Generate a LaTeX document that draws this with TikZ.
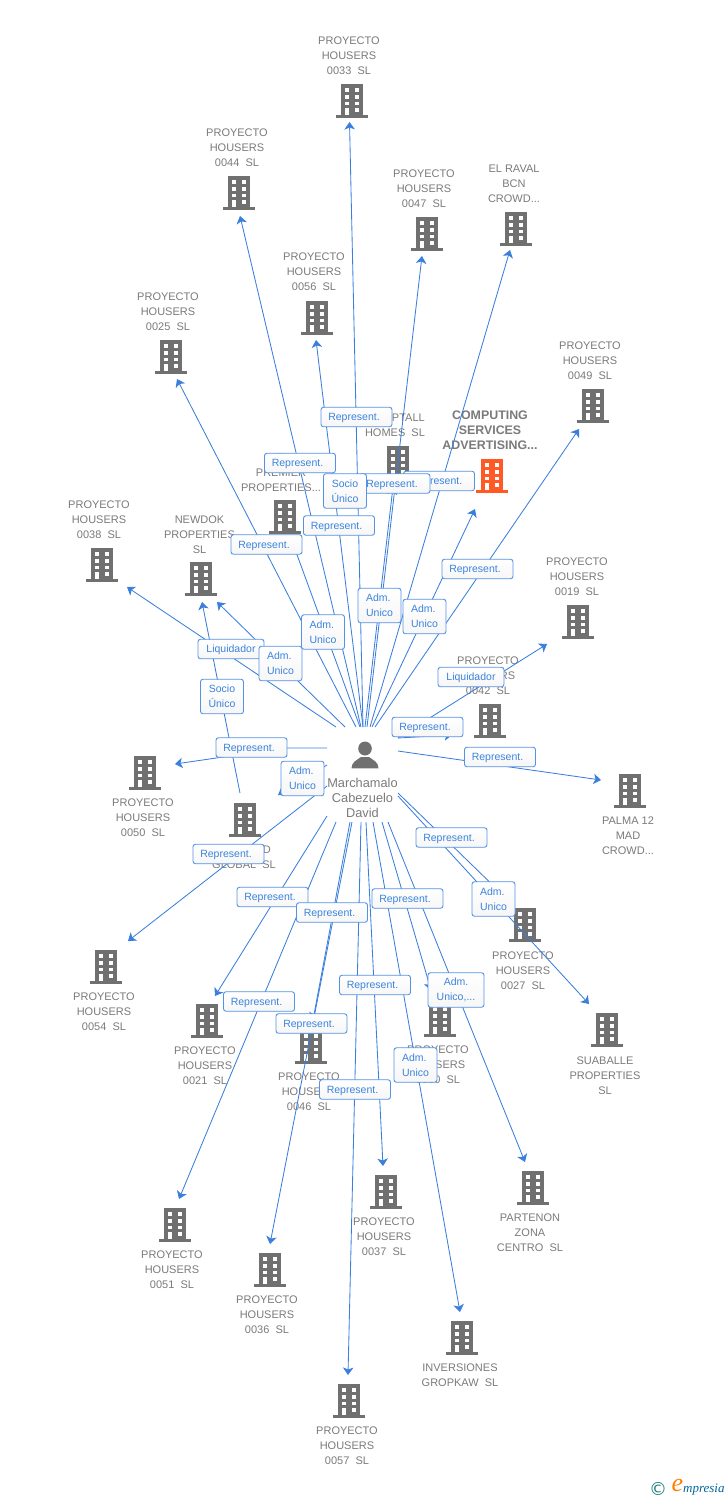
\documentclass[tikz,border=0pt]{standalone}
\usepackage{fontspec}
\setmainfont{Liberation Sans}
\newfontfamily\serifit{Liberation Serif}
\newfontfamily\dejavu{DejaVu Sans}
\usetikzlibrary{arrows.meta}
\definecolor{bluel}{HTML}{3B7FDC}
\definecolor{blueb}{HTML}{5492E6}
\definecolor{bluet}{HTML}{3C83DC}
\definecolor{grayt}{HTML}{7A7A7A}
\definecolor{grayb}{HTML}{707070}
\definecolor{orangeb}{HTML}{FF5A26}
\tikzset{
  x=1pt,y=-1pt,
  pics/bldg/.style={code={
    \fill[#1] (-11.3,-17) rectangle (11.3,14.3);
    \fill[#1] (-16,14) rectangle (16,16.6);
    \fill[white] (-7.4,-13.5) rectangle (-3,-9.5);
    \fill[white] (2.8,-13.5) rectangle (7.2,-9.5);
    \fill[white] (-7.4,-6.3) rectangle (-3,-2.4);
    \fill[white] (2.8,-6.3) rectangle (7.2,-2.4);
    \fill[white] (-7.4,0.5) rectangle (-3,4.4);
    \fill[white] (2.8,0.5) rectangle (7.2,4.4);
    \fill[white] (-7.4,6.8) rectangle (-3,14);
    \fill[white] (2.8,6.8) rectangle (7.2,10.8);
  }},
  lbl/.style={text=grayt,align=center,inner sep=0pt,yshift=-0.8pt,font=\fontsize{11}{15}\selectfont},
  lblbold/.style={text=grayt,align=center,inner sep=0pt,yshift=-0.8pt,font=\fontsize{12.4}{15}\selectfont\bfseries},
  lblp/.style={text=grayt,align=center,inner sep=0pt,font=\fontsize{12.8}{15}\selectfont},
  tag/.style={draw=blueb,line width=0.9pt,rounded corners=2.5pt,top color=white,bottom color=white!93!gray,
     text=bluet,inner sep=0pt,font=\fontsize{10.5}{15}\selectfont},
  rep/.style={tag,minimum width=71pt,minimum height=19.5pt,text height=7.2pt,text depth=0pt,execute at end node=\hspace*{5pt}},
  liq/.style={tag,minimum width=66pt,minimum height=19.5pt,text height=7.2pt,text depth=0pt},
  adm/.style={tag,minimum width=43pt,minimum height=34.5pt,align=left,execute at begin node=\rule{0pt}{8.5pt}},
  lnk/.style={bluel,line width=0.85pt},
  arr/.style={lnk,-{Stealth[length=7.5pt,width=10.5pt,inset=2pt]}},
}
\begin{document}
\begin{tikzpicture}
\useasboundingbox (0,0) rectangle (728,1500);
% buildings
\pic at (352,101) {bldg=grayb};
\pic at (239,193) {bldg=grayb};
\pic at (427,234) {bldg=grayb};
\pic at (516,229) {bldg=grayb};
\pic at (317,318) {bldg=grayb};
\pic at (171,357) {bldg=grayb};
\pic at (593,406) {bldg=grayb};
\pic at (398,463) {bldg=grayb};
\pic at (492,476) {bldg=orangeb};
\pic at (285,517) {bldg=grayb};
\pic at (201,579) {bldg=grayb};
\pic at (102,565) {bldg=grayb};
\pic at (578,622) {bldg=grayb};
\pic at (490,721) {bldg=grayb};
\pic at (145,773) {bldg=grayb};
\pic at (245,820) {bldg=grayb};
\pic at (630,791) {bldg=grayb};
\pic at (106,967) {bldg=grayb};
\pic at (207,1021) {bldg=grayb};
\pic at (311,1047) {bldg=grayb};
\pic at (440,1020) {bldg=grayb};
\pic at (525,925) {bldg=grayb};
\pic at (607,1030) {bldg=grayb};
\pic at (386,1192) {bldg=grayb};
\pic at (533,1188) {bldg=grayb};
\pic at (175,1225) {bldg=grayb};
\pic at (270,1270) {bldg=grayb};
\pic at (462,1338) {bldg=grayb};
\pic at (349,1401) {bldg=grayb};
% person
\fill[grayb] (365,748.5) ellipse (6.8pt and 7pt);
\fill[grayb] (351.5,768.3) .. controls (351.5,762) and (357,760) .. (361,757) -- (369,757) .. controls (373,760) and (378.5,762) .. (378.5,768.3) -- cycle;
% labels
\node[lbl] (n33) at (349,55) {PROYECTO\\HOUSERS\\0033\ \ SL};
\node[lbl] (n44) at (237,147) {PROYECTO\\HOUSERS\\0044\ \ SL};
\node[lbl] (n47) at (424,188) {PROYECTO\\HOUSERS\\0047\ \ SL};
\node[lbl] (nraval) at (514,183) {EL RAVAL\\BCN\\CROWD...};
\node[lbl] (n56) at (314,271) {PROYECTO\\HOUSERS\\0056\ \ SL};
\node[lbl] (n25) at (168,311) {PROYECTO\\HOUSERS\\0025\ \ SL};
\node[lbl] (n49) at (590,360) {PROYECTO\\HOUSERS\\0049\ \ SL};
\node[lbl,anchor=east] (nptall) at (425,417) {PTALL};
\node[lbl] (nhomes) at (395,432) {HOMES\ \ SL};
\node[lblbold] (ncomp) at (490,429) {COMPUTING\\SERVICES\\ADVERTISING...};
\node[lbl] (nprem) at (281,472) {NEW\\PREMIER\\PROPERTIES...};
\node[lbl] (nnew) at (199.5,534) {NEWDOK\\PROPERTIES\\SL};
\node[lbl] (n38) at (99,519) {PROYECTO\\HOUSERS\\0038\ \ SL};
\node[lbl] (n19) at (577,576) {PROYECTO\\HOUSERS\\0019\ \ SL};
\node[lbl] (n42) at (488,675) {PROYECTO\\HOUSERS\\0042\ \ SL};
\node[lbl] (n50) at (143,817) {PROYECTO\\HOUSERS\\0050\ \ SL};
\node[lblp] (np) at (362.5,798) {Marchamalo\\Cabezuelo\\David};
\node[lbl,anchor=east] (nd) at (271,849) {D};
\node[lbl] (nglob) at (244,864) {GLOBAL\ \ SL};
\node[lbl] (npal) at (628,835) {PALMA 12\\MAD\\CROWD...};
\node[lbl] (n54) at (104,1011) {PROYECTO\\HOUSERS\\0054\ \ SL};
\node[lbl] (n21) at (205,1065) {PROYECTO\\HOUSERS\\0021\ \ SL};
\node[lbl] (n46) at (309,1091) {PROYECTO\\HOUSERS\\0046\ \ SL};
\node[lbl] (n30) at (438,1064) {PROYECTO\\HOUSERS\\0030\ \ SL};
\node[lbl] (n27) at (523,970) {PROYECTO\\HOUSERS\\0027\ \ SL};
\node[lbl] (nsua) at (605,1075) {SUABALLE\\PROPERTIES\\SL};
\node[lbl] (n37) at (384,1236) {PROYECTO\\HOUSERS\\0037\ \ SL};
\node[lbl] (npar) at (530,1232) {PARTENON\\ZONA\\CENTRO\ \ SL};
\node[lbl] (n51) at (172,1269) {PROYECTO\\HOUSERS\\0051\ \ SL};
\node[lbl] (n36) at (267,1314) {PROYECTO\\HOUSERS\\0036\ \ SL};
\node[lbl] (ninv) at (460,1374.5) {INVERSIONES\\GROPKAW\ \ SL};
\node[lbl] (n57) at (347,1445) {PROYECTO\\HOUSERS\\0057\ \ SL};
% connector ends
\coordinate (s33) at (363,727);  \coordinate (t33) at (349.5,122);
\coordinate (s44) at (361,727);  \coordinate (t44) at (240,216);
\coordinate (s47) at (367,727);  \coordinate (t47) at (422,256);
\coordinate (sraval) at (370,727); \coordinate (traval) at (510,250);
\coordinate (s56) at (363,727);  \coordinate (t56) at (316,340);
\coordinate (s25) at (356,727);  \coordinate (t25) at (177,379);
\coordinate (s49) at (375,727);  \coordinate (t49) at (579,429);
\coordinate (sptall) at (365,727); \coordinate (tptall) at (393,487);
\coordinate (scomp) at (372,727); \coordinate (tcomp) at (475,509);
\coordinate (sprem) at (360,727); \coordinate (tprem) at (292,541);
\coordinate (snew) at (345,727); \coordinate (tnew) at (217,602);
\coordinate (s38) at (336,727);  \coordinate (t38) at (127,587);
\coordinate (s19) at (398,738);  \coordinate (t19) at (547,644);
\coordinate (s42) at (398,738);  \coordinate (t42) at (452,735);
\coordinate (spal) at (398,751); \coordinate (tpal) at (601,780);
\coordinate (s50) at (327,748);  \coordinate (m50) at (285,748); \coordinate (t50) at (175,764);
\coordinate (sglob) at (327,765); \coordinate (tglob) at (278,795);
\coordinate (s54) at (327,786);  \coordinate (t54) at (128,941);
\coordinate (sglobb) at (240,793); \coordinate (tglobb) at (202,602);
\coordinate (s21) at (327,816);  \coordinate (t21) at (215,996);
\coordinate (s51) at (336,822);  \coordinate (t51) at (179,1199);
\coordinate (s36) at (352,822);  \coordinate (t36) at (270,1244);
\coordinate (s46) at (350,822);  \coordinate (t46) at (313,1020);
\coordinate (s57) at (361,822);  \coordinate (t57) at (348,1375);
\coordinate (s37) at (366,822);  \coordinate (t37) at (383,1166);
\coordinate (sinv) at (373,822); \coordinate (tinv) at (460,1312);
\coordinate (s30) at (382,822);  \coordinate (t30) at (431,990);
\coordinate (spar) at (388,822); \coordinate (tpar) at (525,1162);
\coordinate (s27) at (398,793);  \coordinate (t27) at (505,897);
\coordinate (ssua) at (398,796); \coordinate (tsua) at (589,1004);
% connectors
\foreach \e in {33,44,47,raval,56,25,49,ptall,comp,prem,new,38,19,42,pal,glob,54,globb,21,51,36,46,57,37,inv,30,par,27,sua}{
  \draw[arr] (s\e) -- (t\e);
}
\draw[arr] (s50) -- (m50) -- (t50);
% tags
\node[rep] (r1) at (356.5,417) {Represent.};
\node[rep] (r2) at (300,463) {Represent.};
\node[rep] (r4) at (439,481) {Represent.};
\node[rep] (r5) at (394.5,483.5) {Represent.};
\node[adm,align=center] (r3) at (345,491) {Socio\\Único};
\node[rep] (r6) at (339,525.5) {Represent.};
\node[rep] (r7) at (266.5,544.5) {Represent.};
\node[rep] (r8) at (477.5,569) {Represent.};
\node[adm] (a1) at (379.5,605.5) {Adm.\\Unico};
\node[adm] (a2) at (424.5,616.5) {Adm.\\Unico};
\node[adm] (a3) at (323,632) {Adm.\\Unico};
\node[liq] (l1) at (231,649) {Liquidador};
\node[adm] (a4) at (280.5,663.5) {Adm.\\Unico};
\node[liq] (l2) at (471,677) {Liquidador};
\node[adm,align=center] (s2) at (222,696.5) {Socio\\Único};
\node[rep] (r9) at (427.5,727) {Represent.};
\node[rep] (r10) at (251.5,747.5) {Represent.};
\node[rep] (r11) at (500,757) {Represent.};
\node[adm] (a5) at (302.5,778.5) {Adm.\\Unico};
\node[rep] (r12) at (451.5,837.5) {Represent.};
\node[rep] (r13) at (228.5,854) {Represent.};
\node[adm] (a6) at (493.5,899) {Adm.\\Unico};
\node[rep] (r14) at (272.5,897) {Represent.};
\node[rep] (r15) at (407.5,898.5) {Represent.};
\node[rep] (r16) at (332,912.5) {Represent.};
\node[rep] (r17) at (375,985) {Represent.};
\node[tag,minimum width=56pt,minimum height=34.5pt,align=center,execute at begin node=\rule{0pt}{8.5pt}] (a7) at (456,990) {Adm.\\Unico,...};
\node[rep] (r18) at (259,1001.5) {Represent.};
\node[rep] (r19) at (311.5,1023.5) {Represent.};
\node[adm] (a8) at (415.5,1065) {Adm.\\Unico};
\node[rep] (r20) at (355,1089.5) {Represent.};
% logo
\node[inner sep=0pt,text=teal!70!gray,font=\dejavu\fontsize{18}{18}\selectfont] (lc) at (658,1489) {©};
\node[inner sep=0pt,text=orange,font=\serifit\itshape\fontsize{26}{26}\selectfont] (le) at (677.5,1485.5) {e};
\node[inner sep=0pt,anchor=west,text=teal!80!blue,font=\serifit\itshape\fontsize{13}{13}\selectfont] (lm) at (683,1490) {mpresia};
\end{tikzpicture}
\end{document}
